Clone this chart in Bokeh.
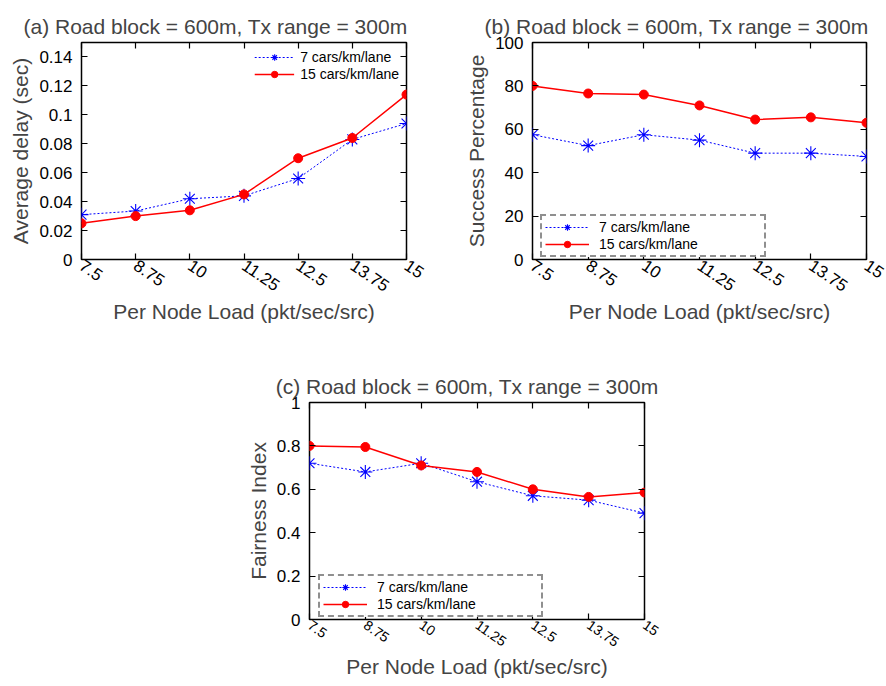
from bokeh.plotting import figure
from bokeh.models import FixedTicker, LinearAxis, Range1d, Legend, LegendItem, Spacer
from bokeh.layouts import row, column
from bokeh.embed import file_html
from bokeh.resources import INLINE

# ---------------- data ----------------
loads = [7.5, 8.75, 10, 11.25, 12.5, 13.75, 15]
load_labels = ["7.5", "8.75", "10", "11.25", "12.5", "13.75", "15"]
series_names = ["7 cars/km/lane", "15 cars/km/lane"]

delay_7 = [0.031, 0.0335, 0.042, 0.044, 0.056, 0.083, 0.094]
delay_15 = [0.025, 0.030, 0.034, 0.045, 0.070, 0.084, 0.114]

success_7 = [57.5, 52.5, 57.5, 55.0, 49.0, 49.0, 47.5]
success_15 = [80.0, 76.5, 76.0, 71.0, 64.5, 65.5, 63.0]

fair_7 = [0.72, 0.68, 0.72, 0.635, 0.57, 0.55, 0.49]
fair_15 = [0.80, 0.795, 0.71, 0.68, 0.60, 0.565, 0.585]

delay_ticks = [0, 0.02, 0.04, 0.06, 0.08, 0.1, 0.12, 0.14]
delay_tick_labels = ["0", "0.02", "0.04", "0.06", "0.08", "0.1", "0.12", "0.14"]
success_ticks = [0, 20, 40, 60, 80, 100]
success_tick_labels = ["0", "20", "40", "60", "80", "100"]
fair_ticks = [0, 0.2, 0.4, 0.6, 0.8, 1]
fair_tick_labels = ["0", "0.2", "0.4", "0.6", "0.8", "1"]

titles = ["(a) Road block = 600m, Tx range = 300m",
          "(b) Road block = 600m, Tx range = 300m",
          "(c) Road block = 600m, Tx range = 300m"]
xlabel = "Per Node Load (pkt/sec/src)"

FONT = "Liberation Sans"
BLUE = "#0000ff"
RED = "#ff0000"
ANGLE = -0.6


def make_panel(title, ylabel, y7, y15, yticks, ylabels, ymax, width, height,
               borders, title_offset, xtick_size="17px", xlab_standoff=0):
    bl, br, bt, bb = borders
    p = figure(width=width, height=height, output_backend="svg",
               toolbar_location=None, x_range=Range1d(7.5, 15),
               y_range=Range1d(0, ymax), min_border_left=bl,
               min_border_right=br, min_border_top=bt, min_border_bottom=bb)
    p.title.text = title
    p.title.text_font = FONT
    p.title.text_font_size = "21px"
    p.title.text_font_style = "normal"
    p.title.align = "right"
    p.title.offset = title_offset
    p.outline_line_color = "black"
    p.outline_line_width = 1.5
    p.xgrid.visible = False
    p.ygrid.visible = False
    p.background_fill_color = "white"
    p.border_fill_color = "white"

    xt = FixedTicker(ticks=loads)
    yt = FixedTicker(ticks=yticks)

    xa = p.xaxis[0]
    xa.ticker = xt
    xa.major_label_overrides = dict(zip(loads, load_labels))
    xa.major_label_orientation = ANGLE
    xa.major_label_text_font = FONT
    xa.major_label_text_font_size = xtick_size
    xa.major_label_standoff = 4
    xa.axis_label = xlabel
    xa.axis_label_text_font = FONT
    xa.axis_label_text_font_size = "21px"
    xa.axis_label_text_font_style = "normal"
    xa.axis_label_standoff = xlab_standoff

    ya = p.yaxis[0]
    ya.ticker = yt
    ya.major_label_overrides = dict(zip(yticks, ylabels))
    ya.major_label_text_font = FONT
    ya.major_label_text_font_size = "17px"
    ya.major_label_standoff = 9
    ya.axis_label = ylabel
    ya.axis_label_text_font = FONT
    ya.axis_label_text_font_size = "21px"
    ya.axis_label_text_font_style = "normal"
    ya.axis_label_standoff = 4

    for ax in (xa, ya):
        ax.axis_line_color = None
        ax.major_tick_in = 6
        ax.major_tick_out = 0
        ax.major_tick_line_width = 1.2
        ax.minor_tick_line_color = None
        ax.major_label_text_color = "black"

    # mirrored ticks on top and right
    top = LinearAxis(ticker=xt, major_label_text_font_size="1px",
                     major_label_text_color=None,
                     major_label_standoff=0, axis_line_color=None,
                     major_tick_in=6, major_tick_out=0, major_tick_line_width=1.2,
                     minor_tick_line_color=None)
    right = LinearAxis(ticker=yt, major_label_text_font_size="1px",
                       major_label_text_color=None,
                       major_label_standoff=0, axis_line_color=None,
                       major_tick_in=6, major_tick_out=0, major_tick_line_width=1.2,
                       minor_tick_line_color=None)
    p.add_layout(top, "above")
    p.add_layout(right, "right")

    l7 = p.line(loads, y7, line_color=BLUE, line_width=1, line_dash="2 2")
    m7 = p.scatter(loads, y7, marker="asterisk", size=14, line_color=BLUE,
                   line_width=1.1)
    l15 = p.line(loads, y15, line_color=RED, line_width=1.5)
    m15 = p.scatter(loads, y15, marker="circle", size=9, fill_color=RED,
                    line_color=RED)
    items = [LegendItem(label=series_names[0], renderers=[l7, m7]),
             LegendItem(label=series_names[1], renderers=[l15, m15])]
    return p, items


def style_legend(lg):
    lg.label_text_font = FONT
    lg.label_text_font_size = "14px"
    lg.label_text_color = "black"
    lg.spacing = 1
    lg.label_height = 16
    lg.glyph_height = 16


def boxed_legend(lg, label_width):
    lg.margin = 0
    lg.padding = 3
    lg.glyph_width = 44
    lg.label_standoff = 10
    lg.label_width = label_width
    lg.border_line_color = "#222222"
    lg.border_line_width = 2
    lg.border_line_dash = "1 1"
    lg.background_fill_color = "white"


# (a)
pa, items_a = make_panel(titles[0], "Average delay (sec)", delay_7, delay_15,
                         delay_ticks, delay_tick_labels, 0.15, 440, 340,
                         (81, 34, 42, 81), -1)
leg_a = Legend(items=items_a, location="top_right")
style_legend(leg_a)
leg_a.border_line_color = None
leg_a.background_fill_alpha = 0
leg_a.glyph_width = 40
leg_a.label_standoff = 6
leg_a.margin = 7
leg_a.padding = 2
pa.add_layout(leg_a)

# (b)
pb, items_b = make_panel(titles[1], "Success Percentage", success_7, success_15,
                         success_ticks, success_tick_labels, 100, 446, 340,
                         (92, 20, 42, 81), -2)
leg_b = Legend(items=items_b, location=(8, 2))
style_legend(leg_b)
boxed_legend(leg_b, 162)
pb.add_layout(leg_b)

# (c)
pc, items_c = make_panel(titles[2], "Fairness Index", fair_7, fair_15,
                         fair_ticks, fair_tick_labels, 1, 434, 346,
                         (69, 30, 62, 67), -14, xtick_size="14px")
leg_c = Legend(items=items_c, location=(9, 2))
style_legend(leg_c)
boxed_legend(leg_c, 161)
pc.add_layout(leg_c)

layout = column(row(pa, pb), row(Spacer(width=240, height=346), pc))

open("out.html", "w").write(file_html(layout, INLINE))
